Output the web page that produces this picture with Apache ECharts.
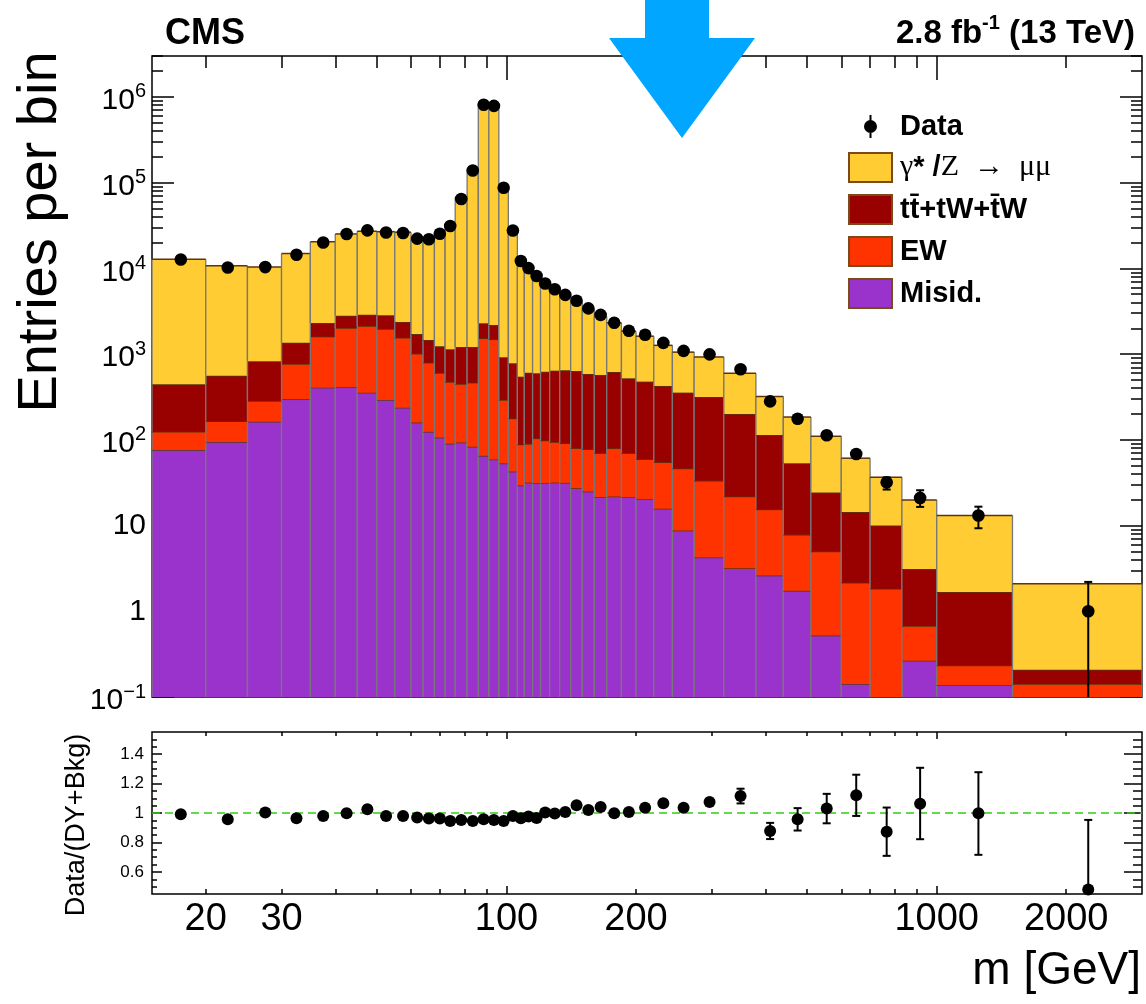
<!DOCTYPE html>
<html>
<head>
<meta charset="utf-8">
<title>Dimuon mass spectrum</title>
<script src="https://cdn.jsdelivr.net/npm/echarts@6.0.0/dist/echarts.min.js"></script>
<style>
  html, body { margin: 0; padding: 0; background: #fff; }
  #chart { width: 1146px; height: 1004px; }
</style>
</head>
<body>
<div id="chart"></div>
<script>
// mass bin edges [GeV]
const binEdges = [15, 20, 25, 30, 35, 40, 45, 50, 55, 60, 64, 68, 72, 76, 81, 86, 91, 96, 101, 106, 110,
  115, 120, 126, 133, 141, 150, 160, 171, 185, 200, 220, 243, 273, 320, 380, 440, 510, 600, 700, 830,
  1000, 1500, 3000];

// expected entries per bin, per process (stacked bottom -> top)
const misid = [76, 94, 163, 297, 406, 410, 355, 292, 237, 159, 124, 106, 90, 93, 83, 65, 59, 53, 42.6, 29.3,
  31.7, 31.2, 31.2, 31.7, 31.5, 27.3, 24.9, 21.4, 21.8, 21.4, 20.3, 15.7, 8.74, 4.24, 3.18, 2.61, 1.73, 0.52,
  0.142, 0.05, 0.265, 0.137, 0.05];
const ew = [48, 71, 121, 470, 1194, 1605, 1770, 1668, 1313, 851, 670, 496, 383, 355, 381, 1463, 1427, 239, 135,
  58.7, 57.9, 72.8, 66.8, 62.3, 59.5, 52.5, 52.7, 48.4, 58, 48.4, 39.1, 39.1, 37.5, 29, 18.6, 12.8, 6.06, 4.46,
  2.01, 1.78, 0.407, 0.096, 0.092];
const ttbar = [321, 395, 540, 593, 700, 785, 755, 870, 820, 700, 666, 630, 665, 762, 746, 757, 697, 626, 603, 457,
  517, 493, 525, 547, 557, 555, 508, 501, 538, 452, 418, 370, 309, 283, 178, 98.6, 45.6, 19.3, 12.2, 8.17, 2.43,
  1.44, 0.066];
const dy = [12360, 10140, 9530, 13540, 18150, 22400, 24220, 23970, 24030, 21190, 21240, 25070, 31860, 66290,
  145100, 842700, 821800, 91380, 27420, 12090, 9710, 7820, 6020, 5090, 4220, 3350, 2760, 2180, 1700, 1330, 1140,
  840, 699, 609, 397, 206, 131, 85.7, 46.7, 26.6, 16.7, 11.4, 1.88];

// observed
const observed = [12700, 10250, 10350, 14400, 20050, 25150, 27750, 26250, 25900, 22200, 21850, 25300, 31200,
  64300, 138400, 808700, 785000, 87300, 27650, 12180, 10070, 8130, 6660, 5710, 4900, 4190, 3410, 2870, 2320, 1870,
  1680, 1350, 1090, 993, 666, 281, 176, 113, 68.3, 31.9, 21, 13.1, 1];
const observedErrLo = [0, 0, 0, 0, 0, 0, 0, 0, 0, 0, 0, 0, 0, 0, 0, 0, 0, 0, 0, 0, 0, 0, 0, 0, 0, 0, 0, 0, 0, 0,
  0, 0, 0, 0, 0, 0, 0, 0, 0, 5.6, 4.5, 3.8, 1];
const observedErrHi = [0, 0, 0, 0, 0, 0, 0, 0, 0, 0, 0, 0, 0, 0, 0, 0, 0, 0, 0, 0, 0, 0, 0, 0, 0, 0, 0, 0, 0, 0,
  0, 0, 0, 0, 0, 0, 0, 0, 0, 4.5, 4.8, 3.5, 1.2];

// Data/(DY+Bkg)
const ratio = [0.991, 0.957, 1.003, 0.964, 0.98, 0.998, 1.025, 0.98, 0.98, 0.969, 0.962, 0.962, 0.946, 0.953,
  0.946, 0.957, 0.953, 0.946, 0.98, 0.964, 0.976, 0.966, 1.003, 0.996, 1.007, 1.052, 1.02, 1.041, 0.998, 1.007,
  1.036, 1.066, 1.036, 1.074, 1.115, 0.878, 0.957, 1.03, 1.12, 0.872, 1.063, 0.998, 0.48];
const ratioErrLo = [0, 0, 0, 0, 0, 0, 0, 0, 0, 0, 0, 0, 0, 0, 0, 0, 0, 0, 0, 0, 0, 0, 0, 0, 0, 0, 0, 0, 0, 0,
  0, 0, 0, 0.02, 0.05, 0.055, 0.076, 0.1, 0.14, 0.163, 0.241, 0.282, 0.48];
const ratioErrHi = [0, 0, 0, 0, 0, 0, 0, 0, 0, 0, 0, 0, 0, 0, 0, 0, 0, 0, 0, 0, 0, 0, 0, 0, 0, 0, 0, 0, 0, 0,
  0, 0, 0, 0.02, 0.05, 0.055, 0.076, 0.1, 0.14, 0.165, 0.244, 0.279, 0.473];

// axis ticks / labels
const xTickLabels = [20, 30, 100, 200, 1000, 2000];
const xMajorTicks = [100, 1000];
const xMinorTicks = [20, 30, 40, 50, 60, 70, 80, 90, 200, 300, 400, 500, 600, 700, 800, 900, 2000];
const yTickLabels = [0.1, 1, 10, 100, 1000, 10000, 100000, 1000000];
const ratioTickLabels = [0.6, 0.8, 1, 1.2, 1.4];

const FONT = '"Liberation Sans", Arial, Helvetica, sans-serif';
const SERIF = '"Liberation Serif", "Times New Roman", serif';
const X_MIN = 15, X_MAX = 3000;
const Y_MIN = 0.1, Y_MAX = 3e6;
const R_MIN = 0.45, R_MAX = 1.55;

const yMinorTicks = [];
for (let d = -1; d <= 6; d++) {
  for (let k = 2; k <= 9; k++) {
    const v = +(k * Math.pow(10, d)).toPrecision(3);
    if (v <= Y_MAX) yMinorTicks.push(v);
  }
}
const ratioMinorTicks = [];
for (let i = 0; i <= 20; i++) ratioMinorTicks.push(+(0.5 + 0.05 * i).toFixed(2));

const tickLine = { color: '#000', width: 1.5 };

function makeXAxis(grid, pos, ticks, len, labels) {
  return {
    type: 'log', logBase: 10, gridIndex: grid, position: pos, min: X_MIN, max: X_MAX,
    axisLine: { show: false, onZero: false },
    splitLine: { show: false },
    axisTick: { show: true, inside: true, length: len, customValues: ticks, lineStyle: tickLine },
    axisLabel: labels ? {
      show: true, customValues: labels, formatter: v => String(Math.round(v)),
      fontFamily: FONT, fontSize: 38, color: '#000', margin: 7
    } : { show: false }
  };
}

function makeYAxis(grid, pos, type, min, max, ticks, len, label) {
  const ax = {
    type: type, gridIndex: grid, position: pos, min: min, max: max,
    axisLine: { show: false, onZero: false },
    splitLine: { show: false },
    axisTick: { show: true, inside: true, length: len, customValues: ticks, lineStyle: tickLine },
    axisLabel: label || { show: false }
  };
  if (type === 'log') ax.logBase = 10;
  return ax;
}

const mainYLabel = {
  show: true, customValues: yTickLabels, margin: 6,
  formatter: v => {
    const e = Math.round(Math.log10(v));
    if (e === 0) return '{p|1}';
    if (e === 1) return '{p|10}';
    return '{n|10}{s|' + (e < 0 ? '\u2212' : '') + Math.abs(e) + '}';
  },
  rich: {
    p: { fontFamily: FONT, fontSize: 30, lineHeight: 30, color: '#000' },
    n: { fontFamily: FONT, fontSize: 30, lineHeight: 30, color: '#000', padding: [8, 0, 0, 0] },
    s: { fontFamily: FONT, fontSize: 20, lineHeight: 20, color: '#000', verticalAlign: 'top' }
  }
};

const ratioYLabel = {
  show: true, customValues: ratioTickLabels, margin: 8,
  formatter: v => (Math.abs(v - 1) < 1e-9 ? '1' : String(+v.toFixed(1))),
  fontFamily: FONT, fontSize: 17, color: '#000'
};

// stacked histogram pieces: [lo, hi, base, top]
function renderBin(params, api) {
  const x0 = api.value(0), x1 = api.value(1);
  const top = api.value(3);
  if (!(top > Y_MIN)) return;
  const bottom = Math.max(api.value(2), Y_MIN);
  const p0 = api.coord([x0, bottom]);
  const p1 = api.coord([x1, top]);
  const fill = api.visual('color');
  return {
    type: 'group',
    children: [
      { type: 'rect', shape: { x: p0[0], y: p1[1], width: p1[0] - p0[0], height: p0[1] - p1[1] }, style: { fill: fill } },
      { type: 'line', shape: { x1: p0[0], y1: p0[1], x2: p0[0], y2: p1[1] }, style: { stroke: '#777', lineWidth: 1.3 } },
      { type: 'line', shape: { x1: p1[0], y1: p0[1], x2: p1[0], y2: p1[1] }, style: { stroke: '#777', lineWidth: 1.3 } },
      { type: 'line', shape: { x1: p0[0], y1: p1[1], x2: p1[0], y2: p1[1] }, style: { stroke: '#5a3510', lineWidth: 1.5 } }
    ]
  };
}

function pointRenderer(yFloor, radius, capHalf) {
  return function (params, api) {
    const x = api.value(0), v = api.value(1), lo = api.value(2), hi = api.value(3);
    const p = api.coord([x, v]);
    const seg = (a, b) => ({ type: 'line', shape: { x1: a[0], y1: a[1], x2: b[0], y2: b[1] }, style: { stroke: '#000', lineWidth: 2 } });
    const kids = [];
    if (hi > 0) {
      const q = api.coord([x, v + hi]);
      kids.push(seg(p, q), seg([q[0] - capHalf, q[1]], [q[0] + capHalf, q[1]]));
    }
    if (lo > 0) {
      const low = v - lo;
      const q = api.coord([x, Math.max(low, yFloor)]);
      kids.push(seg(p, q));
      if (low > yFloor) kids.push(seg([q[0] - capHalf, q[1]], [q[0] + capHalf, q[1]]));
    }
    kids.push({ type: 'circle', shape: { cx: p[0], cy: p[1], r: radius }, style: { fill: '#000' } });
    return { type: 'group', children: kids };
  };
}

const processes = [
  { name: 'Misid', values: misid, color: '#9933cc' },
  { name: 'EW', values: ew, color: '#ff3300' },
  { name: 'ttbar', values: ttbar, color: '#990000' },
  { name: 'DY', values: dy, color: '#ffcc33' }
];

const running = binEdges.slice(1).map(() => 0);
const stackSeries = processes.map(proc => {
  const rows = proc.values.map((v, i) => {
    const row = [binEdges[i], binEdges[i + 1], running[i], running[i] + v];
    running[i] += v;
    return row;
  });
  return {
    type: 'custom', name: proc.name, xAxisIndex: 0, yAxisIndex: 0,
    renderItem: renderBin, data: rows, encode: { x: [0, 1], y: 3 },
    itemStyle: { color: proc.color }, z: 2, silent: true
  };
});

const centers = binEdges.slice(1).map((hi, i) => (binEdges[i] + hi) / 2);
const dataRows = observed.map((v, i) => [centers[i], v, observedErrLo[i], observedErrHi[i]]);
const ratioRows = ratio.map((v, i) => [centers[i], v, ratioErrLo[i], ratioErrHi[i]]);

const BOX_EDGE = '#7a4a1a';
const DATA_ICON = 'path://M0,0L0,0M43,29L43,29M20.5,3h2v23h-2zM28,14.5A6.5,6.5,0,1,1,15,14.5A6.5,6.5,0,1,1,28,14.5Z';
const legendText = {
  Data: 'Data',
  DY: '{gr|\u03b3}{st|* /}{gr|Z  \u2192  \u03bc\u03bc}',
  ttbar: 'tt\u0304+tW+t\u0304W',
  EW: 'EW',
  Misid: 'Misid.'
};

const option = {
  animation: false,
  backgroundColor: '#fff',
  grid: [
    { left: 152, top: 56, width: 990, height: 641, show: true, borderColor: '#000', borderWidth: 1.5, backgroundColor: 'transparent' },
    { left: 152, top: 732, width: 990, height: 162, show: true, borderColor: '#000', borderWidth: 1.5, backgroundColor: 'transparent' }
  ],
  xAxis: [
    makeXAxis(0, 'bottom', xMinorTicks.concat(xMajorTicks), 12, null),
    makeXAxis(0, 'top', xMinorTicks, 12, null),
    makeXAxis(0, 'top', xMajorTicks, 24, null),
    makeXAxis(1, 'bottom', xMinorTicks, 5, xTickLabels),
    makeXAxis(1, 'bottom', xMajorTicks, 8, null),
    makeXAxis(1, 'top', xMinorTicks, 4, null),
    makeXAxis(1, 'top', xMajorTicks, 7, null)
  ],
  yAxis: [
    makeYAxis(0, 'left', 'log', Y_MIN, Y_MAX, yTickLabels, 22, mainYLabel),
    makeYAxis(0, 'left', 'log', Y_MIN, Y_MAX, yMinorTicks, 11, null),
    makeYAxis(0, 'right', 'log', Y_MIN, Y_MAX, yTickLabels, 22, null),
    makeYAxis(0, 'right', 'log', Y_MIN, Y_MAX, yMinorTicks, 11, null),
    makeYAxis(1, 'left', 'value', R_MIN, R_MAX, ratioTickLabels, 10, ratioYLabel),
    makeYAxis(1, 'left', 'value', R_MIN, R_MAX, ratioMinorTicks, 5, null),
    makeYAxis(1, 'right', 'value', R_MIN, R_MAX, ratioTickLabels, 18, null),
    makeYAxis(1, 'right', 'value', R_MIN, R_MAX, ratioMinorTicks, 9, null)
  ],
  legend: {
    orient: 'vertical', left: 848, top: 112, padding: 0, itemWidth: 43, itemHeight: 29, itemGap: 11,
    selectedMode: false,
    textStyle: {
      fontFamily: FONT, fontWeight: 'bold', fontSize: 29, color: '#000', padding: [0, 0, 0, 3],
      rich: {
        gr: { fontFamily: SERIF, fontWeight: 'normal', fontSize: 30, color: '#000' },
        st: { fontFamily: FONT, fontWeight: 'bold', fontSize: 29, color: '#000' }
      }
    },
    formatter: name => legendText[name],
    data: [
      { name: 'Data', icon: DATA_ICON, itemStyle: { color: '#000', borderWidth: 0 } },
      { name: 'DY', icon: 'rect', itemStyle: { color: '#ffcc33', borderColor: BOX_EDGE, borderWidth: 2 } },
      { name: 'ttbar', icon: 'rect', itemStyle: { color: '#990000', borderColor: BOX_EDGE, borderWidth: 2 } },
      { name: 'EW', icon: 'rect', itemStyle: { color: '#ff3300', borderColor: BOX_EDGE, borderWidth: 2 } },
      { name: 'Misid', icon: 'rect', itemStyle: { color: '#9933cc', borderColor: BOX_EDGE, borderWidth: 2 } }
    ]
  },
  graphic: [
    { type: 'text', x: 165, y: 34, style: { text: 'CMS', fontFamily: FONT, fontWeight: 'bold', fontSize: 36, fill: '#000', align: 'left', verticalAlign: 'middle' } },
    {
      type: 'text', x: 1135, y: 30,
      style: {
        text: '{m|2.8 fb}{s|-1}{m| (13 TeV)}', align: 'right', verticalAlign: 'middle', fill: '#000',
        rich: {
          m: { fontFamily: FONT, fontWeight: 'bold', fontSize: 33, lineHeight: 33, fill: '#000', padding: [8, 0, 0, 0] },
          s: { fontFamily: FONT, fontWeight: 'bold', fontSize: 20, lineHeight: 20, fill: '#000', verticalAlign: 'top' }
        }
      }
    },
    { type: 'text', x: 41, y: 232, rotation: Math.PI / 2, style: { text: 'Entries per bin', fontFamily: FONT, fontSize: 56, fill: '#000', align: 'center', verticalAlign: 'middle' } },
    { type: 'text', x: 77, y: 825, rotation: Math.PI / 2, style: { text: 'Data/(DY+Bkg)', fontFamily: FONT, fontSize: 27, fill: '#000', align: 'center', verticalAlign: 'middle' } },
    { type: 'text', x: 1141, y: 971, style: { text: 'm [GeV]', fontFamily: FONT, fontSize: 46, fill: '#000', align: 'right', verticalAlign: 'middle' } },
    {
      type: 'polygon', z: 100,
      shape: { points: [[645, 0], [709, 0], [709, 38], [755, 38], [682, 138], [609, 38], [645, 38]] },
      style: { fill: '#00a6ff' }
    }
  ],
  series: stackSeries.concat([
    {
      type: 'custom', name: 'Data', xAxisIndex: 0, yAxisIndex: 0, z: 5, silent: true,
      renderItem: pointRenderer(Y_MIN, 6.3, 4), data: dataRows, encode: { x: 0, y: 1 },
      itemStyle: { color: '#000' }
    },
    {
      type: 'line', name: 'unity', xAxisIndex: 3, yAxisIndex: 4, z: 3, silent: true,
      data: [[X_MIN, 1], [X_MAX, 1]], showSymbol: false, symbol: 'none',
      lineStyle: { color: '#33cc11', width: 1.5, type: [8, 5] }
    },
    {
      type: 'custom', name: 'Ratio', xAxisIndex: 3, yAxisIndex: 4, z: 5, silent: true,
      renderItem: pointRenderer(R_MIN, 6, 4), data: ratioRows, encode: { x: 0, y: 1 },
      itemStyle: { color: '#000' }
    }
  ])
};

const chart = echarts.init(document.getElementById('chart'), null, { renderer: 'canvas' });
chart.setOption(option);
</script>
</body>
</html>
